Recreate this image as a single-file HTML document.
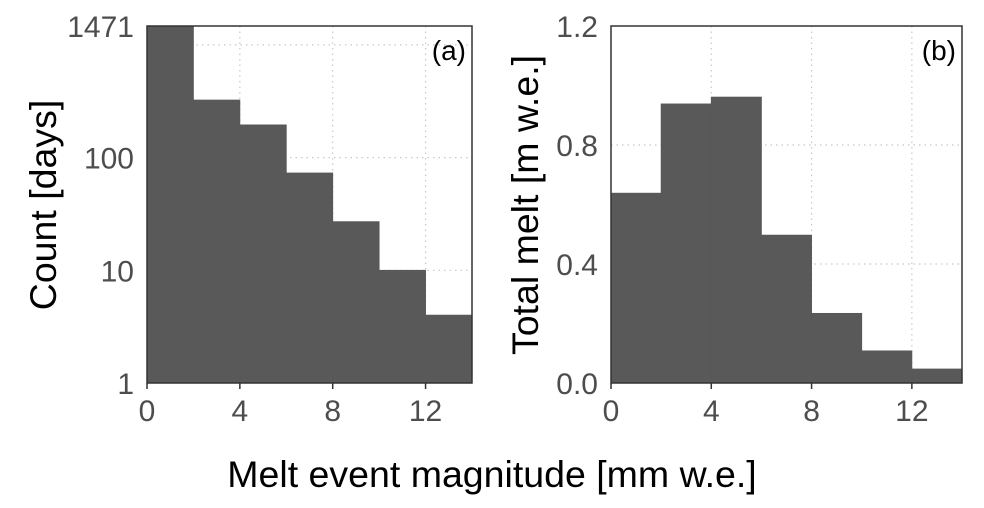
<!DOCTYPE html>
<html><head><meta charset="utf-8"><style>
body{margin:0;background:#fff}
svg{display:block;font-family:"Liberation Sans",sans-serif}
</style></head><body>
<svg id="chart" width="984" height="508" viewBox="0 0 984 508"></svg>
<script>
const binEdges=[0,2,4,6,8,10,12,14];
const countValues=[1471,324,195,73,27,10,4];
const meltValues=[0.638,0.938,0.961,0.497,0.234,0.108,0.047];
const xTicks=[0,4,8,12];
const countTicks=[1,10,100,1471];
const countGrid=[10,100,1000];
const meltTicks=[0.0,0.4,0.8,1.2];
const meltGrid=[0.4,0.8];

const NS="http://www.w3.org/2000/svg";
const svg=document.getElementById('chart');
function el(t,a,p){const e=document.createElementNS(NS,t);for(const k in a)e.setAttribute(k,a[k]);(p||svg).appendChild(e);return e;}

const yTop=26,yBot=383;
function panel(name,x0,x1,yf,vals,grid,ticks,fmt,label){
  const g=el('g',{});
  
  
  const xs=v=>x0+(v-0)/14*(x1-x0);
  xTicks.slice(1).forEach(t=>{const l=el('line',{x1:xs(t),x2:xs(t),y1:yTop,y2:yBot,stroke:'#c8c8c8','stroke-width':1.2,'stroke-dasharray':'1.5 4'},g);
    
    });
  grid.forEach(t=>{const l=el('line',{x1:x0,x2:x1,y1:yf(t),y2:yf(t),stroke:'#c8c8c8','stroke-width':1.2,'stroke-dasharray':'1.5 4'},g);
    
    });
  vals.forEach((v,i)=>{const y=yf(v);const r=el('rect',{x:xs(binEdges[i]),y:y,width:xs(binEdges[i+1])-xs(binEdges[i]),height:yBot-y,fill:'#595959',stroke:'#595959','stroke-width':0.8},g);
    
    });
  const f=el('rect',{x:x0,y:yTop,width:x1-x0,height:yBot-yTop,fill:'none',stroke:'#333','stroke-width':1.5},g);
  
  
  xTicks.forEach(t=>{const tk=el('line',{x1:xs(t),x2:xs(t),y1:yBot,y2:yBot+6,stroke:'#333','stroke-width':1.5},g);
    
    
    const tx=el('text',{x:xs(t),y:421,'text-anchor':'middle','font-size':30,fill:'#4d4d4d'},g);tx.textContent=t;
    
    });
  ticks.forEach(t=>{const tx=el('text',{x:x0-13,y:yf(t)+11,'text-anchor':'end','font-size':30,fill:'#4d4d4d'},g);tx.textContent=fmt(t);
    
    });
  const lb=el('text',{x:x1-6,y:60,'text-anchor':'end','font-size':28,fill:'#000'},g);lb.textContent=label;
  
  
}
const logMax=Math.log10(1471);
panel('panel-a-count',147,472,v=>yBot-Math.log10(v)/logMax*(yBot-yTop),countValues,countGrid,countTicks,t=>String(t),'(a)');
panel('panel-b-total-melt',611,962,v=>yBot-v/1.2*(yBot-yTop),meltValues,meltGrid,meltTicks,t=>t.toFixed(1),'(b)');

let t=el('text',{x:492,y:487,'text-anchor':'middle','font-size':37.5,fill:'#000'});t.textContent='Melt event magnitude [mm w.e.]';


t=el('text',{x:0,y:0,'text-anchor':'middle','font-size':37.5,fill:'#000',transform:'translate(56,205) rotate(-90)'});t.textContent='Count [days]';


t=el('text',{x:0,y:0,'text-anchor':'middle','font-size':37.5,fill:'#000',transform:'translate(538,205) rotate(-90)'});t.textContent='Total melt [m w.e.]';


</script>
</body></html>
